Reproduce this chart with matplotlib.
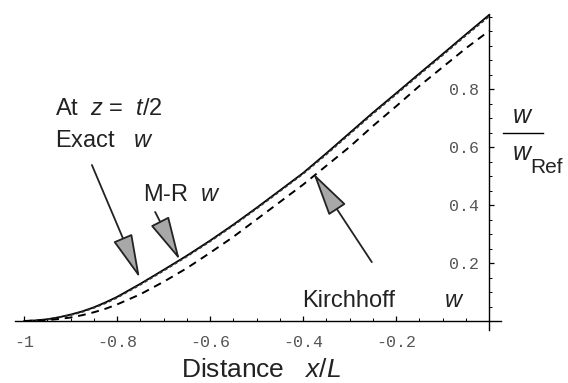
import matplotlib
matplotlib.use("Agg")
import matplotlib.pyplot as plt
import numpy as np

plt.rcParams["mathtext.fontset"] = "custom"
plt.rcParams["mathtext.rm"] = "Liberation Sans"
plt.rcParams["mathtext.it"] = "Liberation Sans:italic"
plt.rcParams["mathtext.bf"] = "Liberation Sans:bold"

# ---- data ----
x_vals = [-1.0, -0.975, -0.95, -0.925, -0.9, -0.875, -0.85, -0.825, -0.8, -0.75, -0.7,
          -0.65, -0.6, -0.55, -0.5, -0.45, -0.4, -0.35, -0.3, -0.25, -0.2, -0.15,
          -0.1, -0.05, 0.0]
exact_w = [0.0, 0.002, 0.006, 0.013, 0.022, 0.033, 0.047, 0.064, 0.083, 0.128, 0.176,
           0.225, 0.277, 0.332, 0.39, 0.45, 0.51, 0.578, 0.648, 0.718, 0.785, 0.853,
           0.92, 0.988, 1.055]
mr_w = [0.0, 0.002, 0.005, 0.012, 0.020, 0.031, 0.045, 0.061, 0.080, 0.125, 0.173,
        0.222, 0.274, 0.329, 0.387, 0.447, 0.507, 0.574, 0.644, 0.714, 0.781, 0.849,
        0.916, 0.984, 1.05]
kirchhoff_w = [0.0, 0.001, 0.003, 0.007, 0.012, 0.02, 0.03, 0.042, 0.057, 0.092, 0.135,
               0.182, 0.235, 0.29, 0.35, 0.41, 0.47, 0.535, 0.6, 0.672, 0.74, 0.81,
               0.875, 0.94, 1.0]
x_ticks = [-1, -0.8, -0.6, -0.4, -0.2]
x_tick_labels = ["-1", "-0.8", "-0.6", "-0.4", "-0.2"]
y_ticks = [0.2, 0.4, 0.6, 0.8]
y_tick_labels = ["0.2", "0.4", "0.6", "0.8"]

W, H = 568, 383
fig = plt.figure(figsize=(W / 100, H / 100), dpi=100)
ax = fig.add_axes([0, 0, 1, 1])
ax.set_facecolor("white")

# pixel mapping: x_px = 489 + 465 x ; y_px = 321 - 290 y
ax.set_xlim(-489 / 465, (W - 489) / 465)
ax.set_ylim((321 - H) / 290, 321 / 290)

# curves
ax.plot(x_vals, exact_w, color="black", lw=1.3, solid_capstyle="round")
ax.plot(x_vals, mr_w, color="#333333", lw=1.2, linestyle=(0, (2, 1.5)))
ax.plot(x_vals, kirchhoff_w, color="black", lw=1.4, linestyle=(0, (4, 3)))

# axes through origin
for s in ["top", "right"]:
    ax.spines[s].set_visible(False)
ax.spines["left"].set_position(("data", 0))
ax.spines["bottom"].set_position(("data", 0))
ax.spines["left"].set_bounds(-0.03, 1.06)
ax.spines["bottom"].set_bounds(-1.02, 0.025)
ax.spines["left"].set_linewidth(1.0)
ax.spines["bottom"].set_linewidth(1.0)

mono = "Liberation Mono"
ax.set_xticks(x_ticks)
ax.set_xticklabels(x_tick_labels, family=mono, fontsize=12, color="#555555")
ax.set_yticks(y_ticks)
ax.set_yticklabels(y_tick_labels, family=mono, fontsize=12, color="#555555")
ax.set_xticks(np.arange(-1, 0.001, 0.05), minor=True)
ax.set_yticks(np.arange(0, 1.06, 0.05), minor=True)
ax.tick_params(axis="x", which="major", direction="in", length=3.5, width=0.9, pad=10)
ax.tick_params(axis="x", which="minor", direction="in", length=2, width=0.7)
ax.tick_params(axis="y", which="major", direction="in", length=3.5, width=0.9, pad=7)
ax.tick_params(axis="y", which="minor", direction="in", length=2, width=0.7)

sans = "Liberation Sans"
fs = 17
tc = "#222222"
ax.text(-0.933, 0.71, r"At  $z$ =  $t$/2", family=sans, fontsize=fs, color=tc)
ax.text(-0.933, 0.60, r"Exact   $w$", family=sans, fontsize=fs, color=tc)
ax.text(-0.744, 0.415, r"M-R  $w$", family=sans, fontsize=fs, color=tc)
ax.text(-0.402, 0.048, r"Kirchhoff", family=sans, fontsize=fs, color=tc)
ax.text(-0.097, 0.048, r"$w$", family=sans, fontsize=fs, color=tc)
ax.text(-0.49, -0.193, r"Distance   $x$/$L$", family=sans, fontsize=19, color=tc,
        ha="center")
# w / w_Ref
ax.text(0.073, 0.683, r"$w$", family=sans, fontsize=18, ha="center", color=tc)
ax.plot([0.030, 0.116], [0.648, 0.648], color="black", lw=1.0, clip_on=False)
ax.text(0.049, 0.555, r"$w$", family=sans, fontsize=18, color=tc)
ax.text(0.088, 0.51, "Ref", family=sans, fontsize=15, color=tc)

# arrows
arrow_kw = dict(arrowstyle="-|>,head_length=2.8,head_width=0.65",
                facecolor="#a8a8a8", edgecolor="#222222", lw=1.3, shrinkA=0, shrinkB=0)
ax.annotate("", xy=(-0.751, 0.148), xytext=(-0.854, 0.538), arrowprops=arrow_kw)
ax.annotate("", xy=(-0.665, 0.21), xytext=(-0.718, 0.376), arrowprops=arrow_kw)
ax.annotate("", xy=(-0.378, 0.51), xytext=(-0.252, 0.203), arrowprops=arrow_kw)

fig.savefig("out.png", dpi=100, facecolor="white")
